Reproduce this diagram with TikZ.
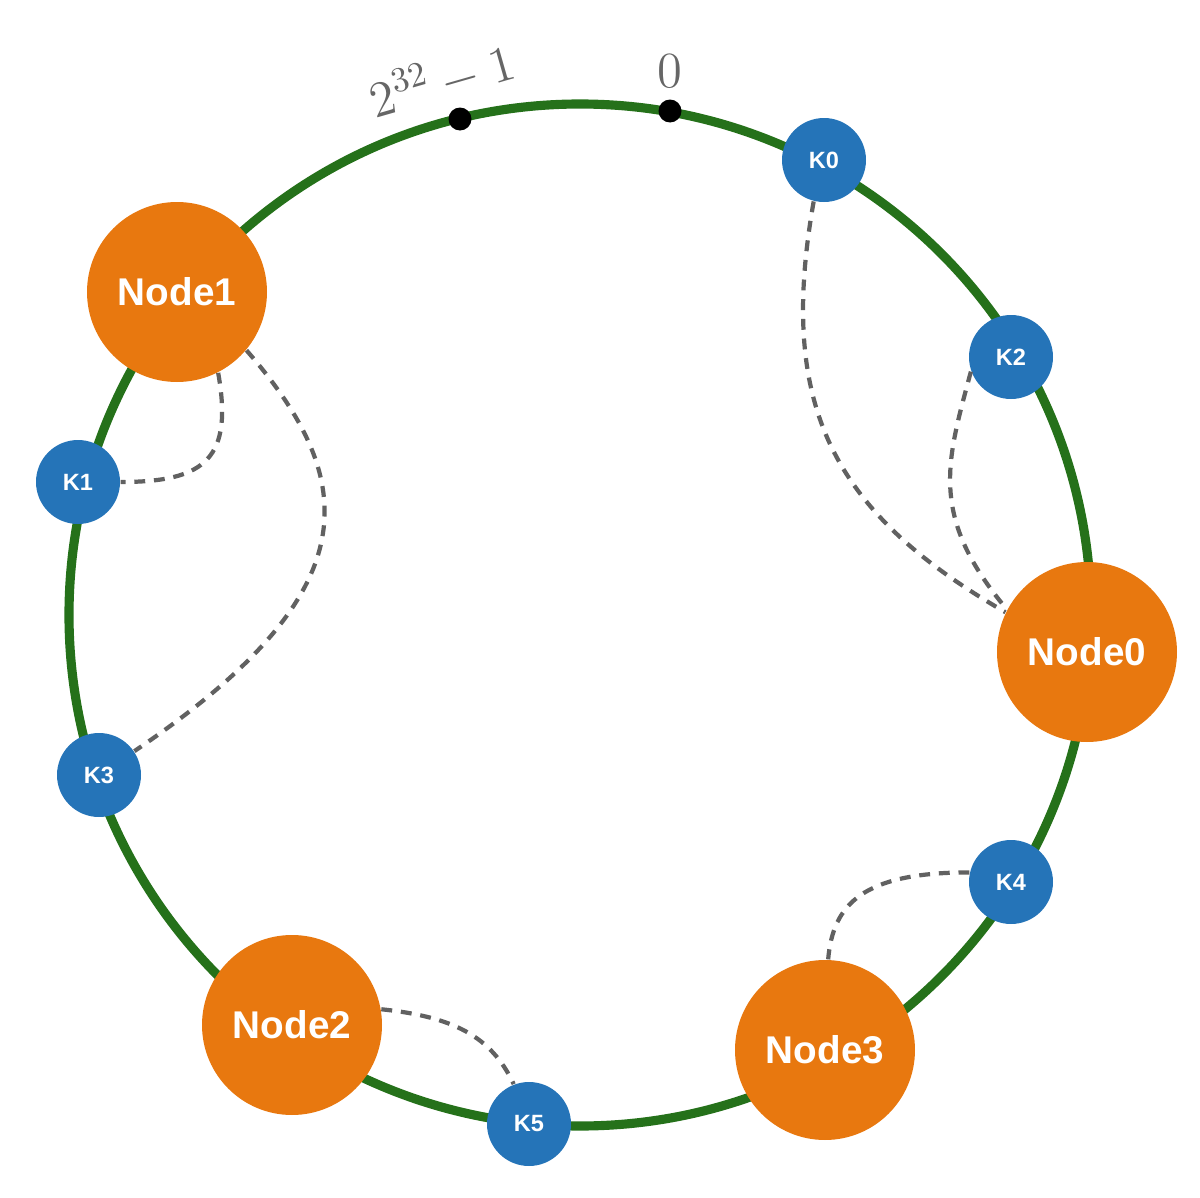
\documentclass[tikz,border=0pt]{standalone}
\usepackage{fontspec}
\setsansfont{Liberation Sans}
\usepackage{tikz}
\usepackage{xcolor}
\definecolor{ringgreen}{HTML}{25711A}
\definecolor{nodeorange}{HTML}{E8780F}
\definecolor{keyblue}{HTML}{2574B8}
\definecolor{linkgray}{HTML}{616161}
\definecolor{labelgray}{HTML}{666666}

\begin{document}
\begin{tikzpicture}[
        server/.style={circle, fill=nodeorange, minimum size=1.8cm, inner sep=0pt, text=white, font=\sffamily\bfseries\fontsize{11}{13}\selectfont},
        key/.style={circle, fill=keyblue, minimum size=0.84cm, inner sep=0pt, text=white, font=\sffamily\bfseries\fontsize{6.7}{8}\selectfont},
        hashdot/.style={circle, fill=black, minimum size=0.23cm, inner sep=0pt},
        hashlabel/.style={text=labelgray, font=\fontsize{14}{16}\selectfont},
        link/.style={linkgray, line width=1.2pt, dash pattern=on 3.1pt off 2.5pt}
    ]
        \useasboundingbox (0,0) rectangle (12,-11.98);

        \draw[ringgreen, line width=2.6pt] (5.80,-6.15) circle (5.11);

        \node[hashdot] (zero) at (6.70,-1.11) {};
        \node[hashdot] (max) at (4.60,-1.19) {};
        \node[hashlabel] (zerolabel) at (6.70,-0.71) {$0$};
        \node[hashlabel, rotate=16] (maxlabel) at (4.42,-0.80) {$2^{32}-1$};

        \node[server] (node0) at (10.87,-6.52) {Node0};
        \node[server] (node1) at (1.77,-2.92) {Node1};
        \node[server] (node2) at (2.92,-10.25) {Node2};
        \node[server] (node3) at (8.25,-10.50) {Node3};

        \node[key] (k0) at (8.24,-1.60) {K0};
        \node[key] (k1) at (0.78,-4.82) {K1};
        \node[key] (k2) at (10.11,-3.57) {K2};
        \node[key] (k3) at (0.99,-7.75) {K3};
        \node[key] (k4) at (10.11,-8.82) {K4};
        \node[key] (k5) at (5.29,-11.24) {K5};

        \draw[link] (k0.-104) to[out=-100, in=150, looseness=1.15] (node0.154);
        \draw[link] (k2.-160) to[out=-105, in=130, in looseness=1.3] (node0.152);
        \draw[link] (node1.-63) to[out=-80, in=0, looseness=1.5] (k1.east);
        \draw[link] (node1.-40) to[out=-49, in=34, out looseness=1.07, in looseness=1.75] (k3.34);
        \draw[link] (k4.167) to[out=180, in=85, out looseness=1.65, in looseness=0.85] (node3.88);
        \draw[link] (node2.10) to[out=-6, in=115, out looseness=1.2, in looseness=0.9] (k5.111);

    \end{tikzpicture}
\end{document}
